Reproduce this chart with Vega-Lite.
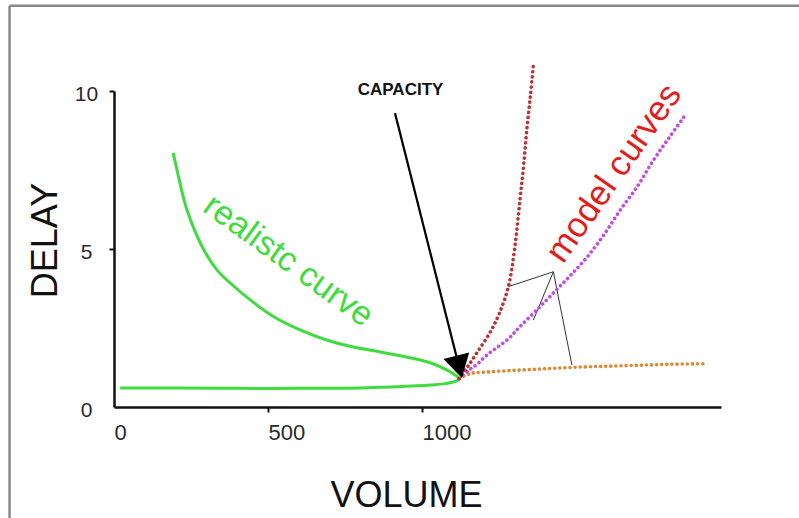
{
  "$schema": "https://vega.github.io/schema/vega-lite/v6.json",
  "autosize": "none",
  "width": 607,
  "height": 316,
  "padding": {"left": 114, "top": 91, "right": 78, "bottom": 111},
  "background": "white",
  "config": {
    "view": {"stroke": null},
    "font": "Liberation Sans"
  },
  "datasets": {
    "curves": [
      {"series": "realistic", "i": 1, "x": 20, "y": 0.6},
      {"series": "realistic", "i": 2, "x": 200, "y": 0.6},
      {"series": "realistic", "i": 3, "x": 400, "y": 0.59},
      {"series": "realistic", "i": 4, "x": 600, "y": 0.59},
      {"series": "realistic", "i": 5, "x": 800, "y": 0.6},
      {"series": "realistic", "i": 6, "x": 900, "y": 0.63},
      {"series": "realistic", "i": 7, "x": 984, "y": 0.67},
      {"series": "realistic", "i": 8, "x": 1030, "y": 0.7},
      {"series": "realistic", "i": 9, "x": 1075, "y": 0.74},
      {"series": "realistic", "i": 10, "x": 1105, "y": 0.8},
      {"series": "realistic", "i": 11, "x": 1120, "y": 0.89},
      {"series": "realistic", "i": 12, "x": 1105, "y": 1.03},
      {"series": "realistic", "i": 13, "x": 1075, "y": 1.2},
      {"series": "realistic", "i": 14, "x": 1026, "y": 1.4},
      {"series": "realistic", "i": 15, "x": 960, "y": 1.56},
      {"series": "realistic", "i": 16, "x": 864, "y": 1.74},
      {"series": "realistic", "i": 17, "x": 766, "y": 1.92},
      {"series": "realistic", "i": 18, "x": 690, "y": 2.12},
      {"series": "realistic", "i": 19, "x": 604, "y": 2.44},
      {"series": "realistic", "i": 20, "x": 520, "y": 2.85},
      {"series": "realistic", "i": 21, "x": 442, "y": 3.39},
      {"series": "realistic", "i": 22, "x": 380, "y": 3.9},
      {"series": "realistic", "i": 23, "x": 334, "y": 4.34},
      {"series": "realistic", "i": 24, "x": 290, "y": 5.0},
      {"series": "realistic", "i": 25, "x": 257, "y": 5.7},
      {"series": "realistic", "i": 26, "x": 235, "y": 6.3},
      {"series": "realistic", "i": 27, "x": 222, "y": 6.75},
      {"series": "realistic", "i": 28, "x": 208, "y": 7.35},
      {"series": "realistic", "i": 29, "x": 192, "y": 8.04},
      {"series": "steep", "i": 1, "x": 1120, "y": 0.9},
      {"series": "steep", "i": 2, "x": 1146, "y": 1.25},
      {"series": "steep", "i": 3, "x": 1180, "y": 1.75},
      {"series": "steep", "i": 4, "x": 1220, "y": 2.35},
      {"series": "steep", "i": 5, "x": 1250, "y": 2.95},
      {"series": "steep", "i": 6, "x": 1280, "y": 3.81},
      {"series": "steep", "i": 7, "x": 1300, "y": 5.0},
      {"series": "steep", "i": 8, "x": 1318, "y": 6.6},
      {"series": "steep", "i": 9, "x": 1330, "y": 7.7},
      {"series": "steep", "i": 10, "x": 1340, "y": 8.8},
      {"series": "steep", "i": 11, "x": 1352, "y": 9.9},
      {"series": "steep", "i": 12, "x": 1361, "y": 10.82},
      {"series": "medium", "i": 1, "x": 1120, "y": 0.9},
      {"series": "medium", "i": 2, "x": 1150, "y": 1.15},
      {"series": "medium", "i": 3, "x": 1178, "y": 1.35},
      {"series": "medium", "i": 4, "x": 1211, "y": 1.65},
      {"series": "medium", "i": 5, "x": 1279, "y": 2.15},
      {"series": "medium", "i": 6, "x": 1318, "y": 2.55},
      {"series": "medium", "i": 7, "x": 1370, "y": 3.05},
      {"series": "medium", "i": 8, "x": 1425, "y": 3.6},
      {"series": "medium", "i": 9, "x": 1480, "y": 4.15},
      {"series": "medium", "i": 10, "x": 1536, "y": 4.75},
      {"series": "medium", "i": 11, "x": 1590, "y": 5.45},
      {"series": "medium", "i": 12, "x": 1643, "y": 6.23},
      {"series": "medium", "i": 13, "x": 1700, "y": 7.0},
      {"series": "medium", "i": 14, "x": 1750, "y": 7.8},
      {"series": "medium", "i": 15, "x": 1800, "y": 8.5},
      {"series": "medium", "i": 16, "x": 1854, "y": 9.24},
      {"series": "flat", "i": 1, "x": 1120, "y": 0.9},
      {"series": "flat", "i": 2, "x": 1156, "y": 1.06},
      {"series": "flat", "i": 3, "x": 1200, "y": 1.1},
      {"series": "flat", "i": 4, "x": 1300, "y": 1.16},
      {"series": "flat", "i": 5, "x": 1400, "y": 1.21},
      {"series": "flat", "i": 6, "x": 1500, "y": 1.26},
      {"series": "flat", "i": 7, "x": 1600, "y": 1.29},
      {"series": "flat", "i": 8, "x": 1700, "y": 1.32},
      {"series": "flat", "i": 9, "x": 1800, "y": 1.35},
      {"series": "flat", "i": 10, "x": 1912, "y": 1.37}
    ],
    "arrow": [
      {"i": 1, "x": 912, "y": 9.3},
      {"i": 2, "x": 1120, "y": 1.27}
    ],
    "head": [{"x": 1120, "y": 1.27}],
    "leaders": [
      {"x": 1426, "y": 4.28, "x2": 1280, "y2": 3.81},
      {"x": 1426, "y": 4.28, "x2": 1361, "y2": 2.75},
      {"x": 1426, "y": 4.28, "x2": 1486, "y2": 1.33}
    ],
    "frame": [
      {"x": -339, "y": 12.7, "x2": 2240, "y2": 12.7},
      {"x": -339, "y": 12.7, "x2": -339, "y2": -4}
    ],
    "capacity": [{"x": 930, "y": 10.03, "label": "CAPACITY"}],
    "realisticLabel": [{"x": 565, "y": 4.62, "label": "realistc curve"}],
    "modelLabel": [{"x": 1622, "y": 7.4, "label": "model curves"}]
  },
  "encoding": {
    "x": {
      "field": "x",
      "type": "quantitative",
      "scale": {"domain": [0, 1970], "nice": false, "zero": false},
      "axis": {
        "values": [0, 500, 1000],
        "format": "d",
        "grid": false,
        "title": "VOLUME",
        "titleFontSize": 36,
        "titleFontWeight": "normal",
        "titleColor": "#111111",
        "titleX": 292,
        "titleY": 88,
        "titleBaseline": "middle",
        "titleAlign": "center",
        "domainColor": "#111111",
        "domainWidth": 2.5,
        "tickColor": "#111111",
        "tickWidth": 2,
        "tickSize": 5,
        "tickOpacity": {"condition": {"test": "datum.value == 0", "value": 0}, "value": 1},
        "labelFontSize": 22,
        "labelColor": "#2a2a2a",
        "labelAlign": "left",
        "labelDx": -7,
        "labelPadding": 10,
        "labelFlush": false,
        "labelOverlap": false
      }
    },
    "y": {
      "field": "y",
      "type": "quantitative",
      "scale": {"domain": [0, 10], "nice": false},
      "axis": {
        "values": [0, 5, 10],
        "format": "d",
        "grid": false,
        "title": "DELAY",
        "titleFontSize": 36,
        "titleFontWeight": "normal",
        "titleColor": "#111111",
        "titleAngle": 270,
        "titleX": -69,
        "titleY": 149,
        "titleBaseline": "middle",
        "titleAlign": "center",
        "domainColor": "#111111",
        "domainWidth": 2.5,
        "tickColor": "#111111",
        "tickWidth": 2,
        "tickSize": 5,
        "tickOpacity": {"condition": {"test": "datum.value == 0", "value": 0}, "value": 1},
        "labelFontSize": 21,
        "labelColor": "#2a2a2a",
        "labelAlign": "center",
        "labelBaseline": "middle",
        "labelPadding": 23,
        "labelOffset": 3,
        "labelFlush": false,
        "labelOverlap": false
      }
    }
  },
  "layer": [
    {
      "data": {"name": "frame"},
      "mark": {"type": "rule", "color": "#8a8a8a", "strokeWidth": 2.5, "clip": false},
      "encoding": {
        "x2": {"field": "x2"},
        "y2": {"field": "y2"}
      }
    },
    {
      "data": {"name": "curves"},
      "transform": [{"filter": "datum.series == 'realistic'"}],
      "mark": {"type": "line", "color": "#3fdc3f", "strokeWidth": 3, "interpolate": "catmull-rom", "clip": false},
      "encoding": {"order": {"field": "i", "type": "quantitative"}}
    },
    {
      "data": {"name": "leaders"},
      "mark": {"type": "rule", "color": "#333333", "strokeWidth": 1, "clip": false},
      "encoding": {
        "x2": {"field": "x2"},
        "y2": {"field": "y2"}
      }
    },
    {
      "data": {"name": "curves"},
      "transform": [{"filter": "datum.series == 'flat'"}],
      "mark": {"type": "line", "color": "#dd8a35", "strokeWidth": 3.6, "strokeDash": [0.1, 5], "strokeCap": "round", "interpolate": "catmull-rom", "clip": false},
      "encoding": {"order": {"field": "i", "type": "quantitative"}}
    },
    {
      "data": {"name": "curves"},
      "transform": [{"filter": "datum.series == 'medium'"}],
      "mark": {"type": "line", "color": "#c04ee4", "strokeWidth": 3.6, "strokeDash": [0.1, 5], "strokeCap": "round", "interpolate": "catmull-rom", "clip": false},
      "encoding": {"order": {"field": "i", "type": "quantitative"}}
    },
    {
      "data": {"name": "curves"},
      "transform": [{"filter": "datum.series == 'steep'"}],
      "mark": {"type": "line", "color": "#bb3337", "strokeWidth": 3.6, "strokeDash": [0.1, 5], "strokeCap": "round", "interpolate": "catmull-rom", "clip": false},
      "encoding": {"order": {"field": "i", "type": "quantitative"}}
    },
    {
      "data": {"name": "arrow"},
      "mark": {"type": "line", "color": "#000000", "strokeWidth": 2.2, "clip": false},
      "encoding": {"order": {"field": "i", "type": "quantitative"}}
    },
    {
      "data": {"name": "head"},
      "mark": {"type": "point", "shape": "triangle-down", "filled": true, "color": "#000000", "opacity": 1, "size": 700, "angle": 346, "clip": false}
    },
    {
      "data": {"name": "capacity"},
      "mark": {"type": "text", "fontSize": 17, "fontWeight": "bold", "color": "#111111", "align": "center", "baseline": "middle", "clip": false},
      "encoding": {"text": {"field": "label"}}
    },
    {
      "data": {"name": "realisticLabel"},
      "mark": {"type": "text", "fontSize": 34, "color": "#3fdc3f", "angle": 36, "align": "center", "baseline": "middle", "clip": false},
      "encoding": {"text": {"field": "label"}}
    },
    {
      "data": {"name": "modelLabel"},
      "mark": {"type": "text", "fontSize": 35, "color": "#e31d1d", "angle": 305, "align": "center", "baseline": "middle", "clip": false},
      "encoding": {"text": {"field": "label"}}
    }
  ]
}
